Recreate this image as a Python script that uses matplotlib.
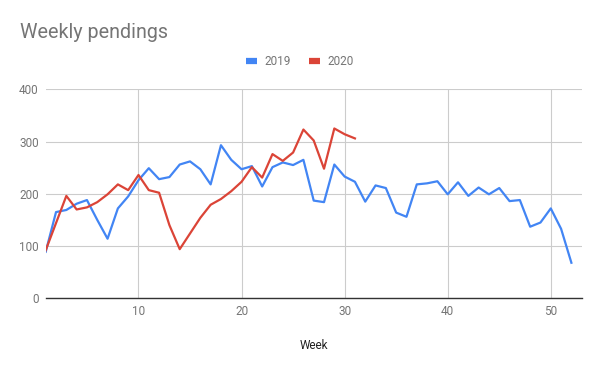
import matplotlib
matplotlib.use("Agg")
import matplotlib.pyplot as plt
from matplotlib.lines import Line2D

weeks_2019 = list(range(1, 53))
pend_2019 = [89, 165, 169, 181, 188, 150, 114, 172, 195, 226,
             249, 228, 232, 256, 262, 247, 218, 293, 265, 247,
             253, 214, 251, 260, 255, 265, 187, 184, 256, 233,
             223, 185, 216, 211, 164, 156, 218, 220, 224, 199,
             222, 196, 212, 199, 211, 186, 188, 137, 145, 172,
             133, 68]

weeks_2020 = list(range(1, 32))
pend_2020 = [92, 144, 196, 170, 174, 184, 199, 218, 207, 236,
             207, 202, 140, 94, 124, 154, 179, 190, 205, 223,
             251, 231, 276, 263, 279, 323, 302, 248, 325, 314,
             306]

blue = '#4285F4'
red = '#DB4437'
grey_txt = '#757575'

plt.rcParams['font.family'] = ['Roboto', 'DejaVu Sans']

fig = plt.figure(figsize=(6, 3.71), dpi=100)
ax = fig.add_axes([0.0762, 0.196, 0.8933, 0.5633])

ax.plot(weeks_2019, pend_2019, color=blue, lw=1.6, label='2019', zorder=3)
ax.plot(weeks_2020, pend_2020, color=red, lw=1.6, label='2020', zorder=3)

ax.set_xlim(1, 53)
ax.set_ylim(0, 400)
ax.set_xticks([10, 20, 30, 40, 50])
ax.set_yticks([0, 100, 200, 300, 400])
ax.grid(True, color='#cccccc', lw=0.8, zorder=0)
for s in ['top', 'right', 'left']:
    ax.spines[s].set_visible(False)
ax.spines['bottom'].set_color('#333333')
ax.spines['bottom'].set_linewidth(1.0)
ax.spines['bottom'].set_zorder(4)
ax.tick_params(length=0, labelsize=8.5, labelcolor=grey_txt, pad=5)
ax.set_xlabel('Week', fontsize=8.5, color='#222222', labelpad=15)

fig.text(0.033, 0.898, 'Weekly pendings', fontsize=14.2, color=grey_txt,
         ha='left', va='baseline')

handles = [Line2D([], [], color=blue, lw=4.5, solid_capstyle='butt'),
           Line2D([], [], color=red, lw=4.5, solid_capstyle='butt')]
leg = fig.legend(handles, ['2019', '2020'], loc='center', bbox_to_anchor=(0.5, 0.833),
                 ncol=2, frameon=False, fontsize=8.5, handlelength=0.9,
                 handletextpad=0.7, columnspacing=1.5)
for t in leg.get_texts():
    t.set_color(grey_txt)

fig.savefig('out.png', dpi=100)
